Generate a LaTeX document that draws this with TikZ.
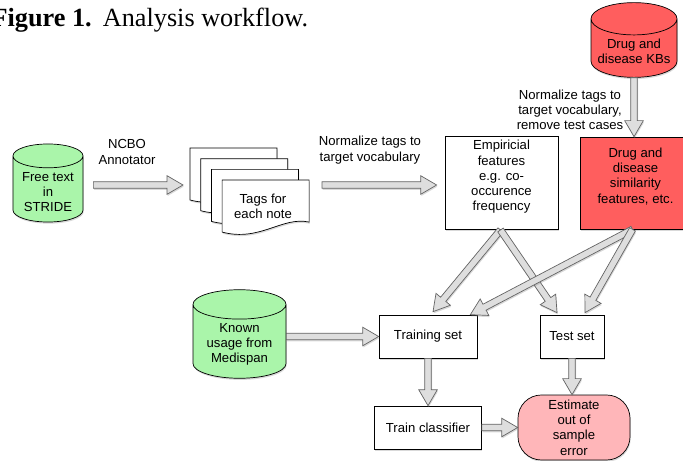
\documentclass[tikz,border=0pt]{standalone}
\usepackage{fontspec}
\setmainfont{Liberation Sans}
\newfontfamily\titlefont{Liberation Serif}
\usetikzlibrary{shapes.geometric}
\usetikzlibrary{calc,shadows}
\definecolor{kbred}{RGB}{255,94,94}
\definecolor{errpink}{RGB}{255,182,185}
\definecolor{usegreen}{RGB}{170,245,170}
\definecolor{arrowfill}{RGB}{222,222,222}
\definecolor{arrowline}{RGB}{100,100,100}

% hollow block arrow from #1 to #2
\newcommand{\fatarrow}[2]{%
	\coordinate (fa-s) at (#1);
	\coordinate (fa-e) at (#2);
	\coordinate (fa-h) at ($(fa-e)!0.48cm!(fa-s)$);
	\draw[fat] ($(fa-s)!0.1cm!90:(fa-e)$) -- ($(fa-h)!0.1cm!-90:(fa-s)$) -- ($(fa-h)!0.28cm!-90:(fa-s)$) -- (fa-e)
		-- ($(fa-h)!0.28cm!90:(fa-s)$) -- ($(fa-h)!0.1cm!90:(fa-s)$) -- ($(fa-s)!0.1cm!-90:(fa-e)$) -- cycle;
}

\begin{document}
\begin{tikzpicture}[x=0.03cm, y=-0.03cm,
	every node/.style={font=\fontsize{11.2}{13}\selectfont, align=center},
	shade/.style={drop shadow={opacity=0.3, shadow xshift=0.6pt, shadow yshift=-1.4pt}},
	box/.style={draw, fill=white, line width=0.6pt, shade},
	drum/.style={cylinder, shape border rotate=90, aspect=0.4, anchor=shape center, draw, line width=0.6pt, shade},
	page/.style={draw, fill=white, line width=0.6pt, shade},
	fat/.style={fill=arrowfill, draw=arrowline, line width=0.6pt, shade},
	lbl/.style={inner sep=0pt}]

	\useasboundingbox (0,0) rectangle (683,461);

	\node[anchor=base west, font=\titlefont\fontsize{22.4}{24}\selectfont] (title) at (-12.5,27) {\textbf{Figure 1.}\hspace{9.5pt}Analysis workflow.};

	% sources
	\node[drum, fill=usegreen, minimum width=2.1cm, minimum height=2.16cm] (stride) at (48,183) {Free text\\in\\STRIDE};
	\node[drum, fill=kbred, minimum width=2.58cm, minimum height=1.86cm] (kbs) at (634,40) {Drug and\\disease KBs};
	\node[drum, fill=usegreen, minimum width=2.79cm, minimum height=2.55cm] (known) at (239.5,334) {Known\\usage from\\Medispan};

	% stack of tagged notes
	\foreach \i in {0,1,2,3} {
		\begin{scope}[shift={({190+10.7*\i},{148+10.7*\i})}]
			\draw[page] (0,0) -- (87,0) -- (87,42) .. controls (60,36) and (38,62) .. (0,52) -- cycle;
		\end{scope}
	}
	\node (tags) at (263,206) {Tags for\\each note};
	\coordinate (stack) at (183,185);
	\coordinate (stackout) at (322,185);

	% feature boxes
	\node[box, minimum width=3.39cm, minimum height=2.76cm, text depth=0.45cm] (emp) at (501.5,183) {Empiricial\\features\\e.g. co-\\occurence\\frequency};
	\node[box, fill=kbred, minimum width=3.33cm, minimum height=2.76cm, text depth=0.45cm] (sim) at (635.5,183) {Drug and\\disease\\similarity\\features, etc.};

	% sets and results
	\node[box, minimum width=2.94cm, minimum height=1.29cm] (train) at (428,336.5) {Training set};
	\node[box, minimum width=1.92cm, minimum height=1.29cm] (test) at (572,336.5) {Test set};
	\node[box, minimum width=3.21cm, minimum height=1.29cm] (clf) at (428,427.5) {Train classifier};
	\node[box, fill=errpink, rounded corners=0.7cm, minimum width=3.36cm, minimum height=1.95cm] (est) at (574,427.5) {Estimate\\out of\\sample\\error};

	% arrow labels
	\node[lbl] (ncbo) at (127,152) {NCBO\\Annotator};
	\node[lbl] (norm1) at (370,150) {Normalize tags to\\target vocabulary};
	\node[lbl] (norm2) at (570,110) {Normalize tags to\\target vocabulary,\\remove test cases};

	% arrows
	\fatarrow{$(stride.east |- stack)+(10,0)$}{stack}
	\fatarrow{stackout}{$(stackout -| emp.west)+(-8,0)$}
	\fatarrow{kbs.south}{kbs.south |- sim.north}
	\fatarrow{$(emp.south)+(-1,0)$}{$(train.north)+(5,-3)$}
	\fatarrow{$(emp.south)+(-1,0)$}{$(test.north)+(-15,-2)$}
	\fatarrow{$(sim.south)+(-3,0)$}{$(train.north east)+(-7,0)$}
	\fatarrow{$(sim.south)+(-3,0)$}{$(test.north)+(13,-2)$}
	\fatarrow{known.east |- train.west}{train.west}
	\fatarrow{train.south}{clf.north}
	\fatarrow{test.south}{test.south |- est.north}
	\fatarrow{clf.east}{clf.east -| est.west}

\end{tikzpicture}
\end{document}
